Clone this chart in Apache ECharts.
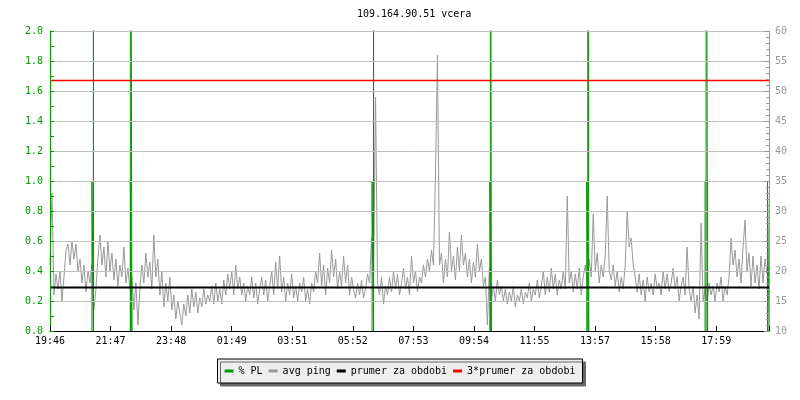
<!DOCTYPE html>
<html>
<head>
<meta charset="utf-8">
<script src="https://cdn.jsdelivr.net/npm/echarts@6/dist/echarts.min.js"></script>
<style>html,body{margin:0;padding:0;background:#fff;}#c{width:800px;height:400px;}</style>
</head>
<body>
<div id="c"></div>
<script>
// ---- data ----
const titleText = '109.164.90.51 vcera';
const xTickLabels = ['19:46','21:47','23:48','01:49','03:51','05:52','07:53','09:54','11:55','13:57','15:58','17:59'];
const xTickStepMinutes = 121.3;
const totalMinutes = 1440;
const pingStepMinutes = 4;
// avg ping [ms], one value every 4 minutes starting 19:46
const pingValues = [
21,33,16,19.5,17,20,15,19,23.5,24.5,
21,25,22,24.5,20,22,18,21,16.5,20,
18,21,13.5,17,22,26,21,24,19,25,
20,23,18.5,22,17.5,21,19,24,18,20.5,
17,19,13.5,18,11,17,21,18,23,19,
21.5,17,26,19,22,16,20,14,18,15,
19,13.5,16,12,15,13,11,14.5,12.5,16,
13,17,14,16.5,13,15.5,14,17,14.5,16,
15,17.5,14.5,18,15,17,14.5,18.5,16,19.5,
17,20,16,21,17,19,16,18,15,17.5,
16,19,15.5,18,14.5,17,19,16,18.5,15,
17.5,20,16,21.5,17,22.5,16.5,19,15,18,
16,19.5,15.5,17.5,15,18,16.5,19,15,17,
14.5,18,16.5,20,18,23,17.5,21,16,20.5,
18,23.5,19,22,17,20,17.5,22.5,18,21,
16,19,17,15.5,18,16,18.5,15.5,17,19.5,
18,25.5,20,49,18,16,19,14.5,17.5,16,
19,16.5,20,17,19.5,16,18,20.5,17,19,
16,22.5,18,20,16.5,19,18,21,19,22,
20,23.5,21,36,56,21,23,18,22,19,
26.5,20,22.5,18.5,24,20,26,21,23,19,
22,18,21.5,19,24.5,20,22,17.5,19,11,
20.5,15,17.5,15,18.5,16,17.5,15,17,14.5,
16.5,15,17.5,14,16,15,17,14.5,16.5,15.5,
18,15,17,16,18.5,15.5,17.5,20,16,19,
16.5,20.5,17,19.5,16,18.5,17,20,17,32.5,
18,20,16.5,19.5,17,20.5,16,19,21,18,
22,19,29.5,20,23,18,21,19,22.5,32.5,
20,18.5,21,17.5,20,16.5,19,17,21,30,
24,25.5,21,19,16.5,19.5,16,18.5,15,19,
16.5,18,16,19.5,17,18,16,20,17,19.5,
16.5,18,20.5,17,19,15,17.5,19,16,24,
17,15,17.5,13,16,12,28,15,17,14.5,
18,16,17.5,15,18,16.5,19,15,17.5,16,
19,25.5,21,23.5,19,22,18,24,28.5,20,
23,17.5,22.5,18,21,17,22.5,18,22,19.5
];
// packet loss events (minutes from 19:46)
const plStart = [84, 161, 645, 881, 1075, 1312, 1437];
const plEnd   = [87, 164, 648, 884, 1079, 1317, 1440];
const plValue = [1, 1, 1, 1, 1, 1, 1];
const plPeakAt = [87, 161, 648, 882, 1077, 1314, null];
const plPeakValue = [5, 5, 5, 5, 5, 5, null];
const avgPing = 17.25;

// ---- build series data ----
const pingData = pingValues.map((v, i) => [i * pingStepMinutes, v]);
const plData = [];
for (let k = 0; k < plStart.length; k++) {
  const pts = [];
  pts.push([plStart[k], 0], [plStart[k], plValue[k]], [plEnd[k], plValue[k]], [plEnd[k], 0]);
  if (plPeakAt[k] !== null) pts.push([plPeakAt[k], 0], [plPeakAt[k], plPeakValue[k]], [plPeakAt[k], 0]);
  pts.forEach(p => plData.push(p));
  plData.push([plEnd[k], '-']);
}
const avgData = [[0, avgPing], [totalMinutes, avgPing]];
const avg3Data = [[0, 3 * avgPing], [totalMinutes, 3 * avgPing]];

const FONT = 'DejaVu Sans Mono';
const GREEN = '#009900';
const GRID = {left: 50, right: 31, top: 31, bottom: 69};
const chart = echarts.init(document.getElementById('c'), null, {renderer: 'canvas'});
chart.setOption({
  animation: false,
  backgroundColor: '#ffffff',
  title: {
    text: titleText, left: 352, top: 4,
    textStyle: {fontFamily: FONT, fontSize: 10, fontWeight: 'normal', color: '#000'}
  },
  legend: {
    data: ['% PL', 'avg ping', 'prumer za obdobi', '3*prumer za obdobi'],
    left: 'center', top: 359,
    icon: 'rect', itemWidth: 9, itemHeight: 3, itemGap: 6,
    padding: [7, 7],
    backgroundColor: '#eeeeee', borderColor: '#000', borderWidth: 1, borderRadius: 0,
    shadowColor: '#666666', shadowOffsetX: 3, shadowOffsetY: 3, shadowBlur: 0,
    textStyle: {fontFamily: FONT, fontSize: 10, color: '#000'}
  },
  grid: GRID,
  xAxis: {
    type: 'value', min: 0, max: totalMinutes, interval: xTickStepMinutes, z: 10,
    axisLine: {show: true, lineStyle: {color: '#000', width: 1}},
    axisTick: {show: true, inside: true, length: 5, lineStyle: {color: '#000'}},
    axisLabel: {
      fontFamily: FONT, fontSize: 10, color: '#000', margin: 5,
      showMinLabel: true, showMaxLabel: true,
      formatter: function (v) {
        const k = Math.round(v / xTickStepMinutes);
        return (Math.abs(v - k * xTickStepMinutes) < 0.5 && k < xTickLabels.length) ? xTickLabels[k] : '';
      }
    },
    splitLine: {show: false}
  },
  yAxis: [{
    type: 'value', min: 0, max: 2, interval: 0.2, position: 'left', z: 10,
    axisLine: {show: true, lineStyle: {color: GREEN, width: 1}},
    axisTick: {show: true, inside: true, length: 4, lineStyle: {color: GREEN}},
    minorTick: {show: true, splitNumber: 2, length: 4, lineStyle: {color: GREEN}},
    axisLabel: {fontFamily: FONT, fontSize: 10, color: GREEN, margin: 7, formatter: v => v.toFixed(1)},
    splitLine: {show: true, lineStyle: {color: '#c0c0c0', width: 1}}
  }, {
    type: 'value', min: 10, max: 60, interval: 5, position: 'right', z: 10,
    axisLine: {show: true, lineStyle: {color: '#999999', width: 1}},
    axisTick: {show: true, inside: true, length: 5, lineStyle: {color: '#999999'}},
    minorTick: {show: true, splitNumber: 5, length: 3, lineStyle: {color: '#999999'}},
    axisLabel: {fontFamily: FONT, fontSize: 10, color: '#999999', margin: 6},
    splitLine: {show: false}
  }],
  series: [{
    name: '% PL', type: 'line', yAxisIndex: 0, data: plData, z: 3,
    showSymbol: false, symbol: 'none', connectNulls: false,
    itemStyle: {color: GREEN}, lineStyle: {color: GREEN, width: 1}
  }, {
    name: 'avg ping', type: 'line', yAxisIndex: 1, data: pingData, z: 2,
    showSymbol: false, symbol: 'none',
    itemStyle: {color: '#999999'}, lineStyle: {color: '#999999', width: 1}
  }, {
    name: 'prumer za obdobi', type: 'line', yAxisIndex: 1, data: avgData, z: 4,
    showSymbol: false, symbol: 'none',
    itemStyle: {color: '#000000'}, lineStyle: {color: '#000000', width: 2}
  }, {
    name: '3*prumer za obdobi', type: 'line', yAxisIndex: 1, data: avg3Data, z: 5,
    showSymbol: false, symbol: 'none',
    itemStyle: {color: '#ff0000'}, lineStyle: {color: '#ff0000', width: 1.5}
  }]
});
</script>
</body>
</html>
